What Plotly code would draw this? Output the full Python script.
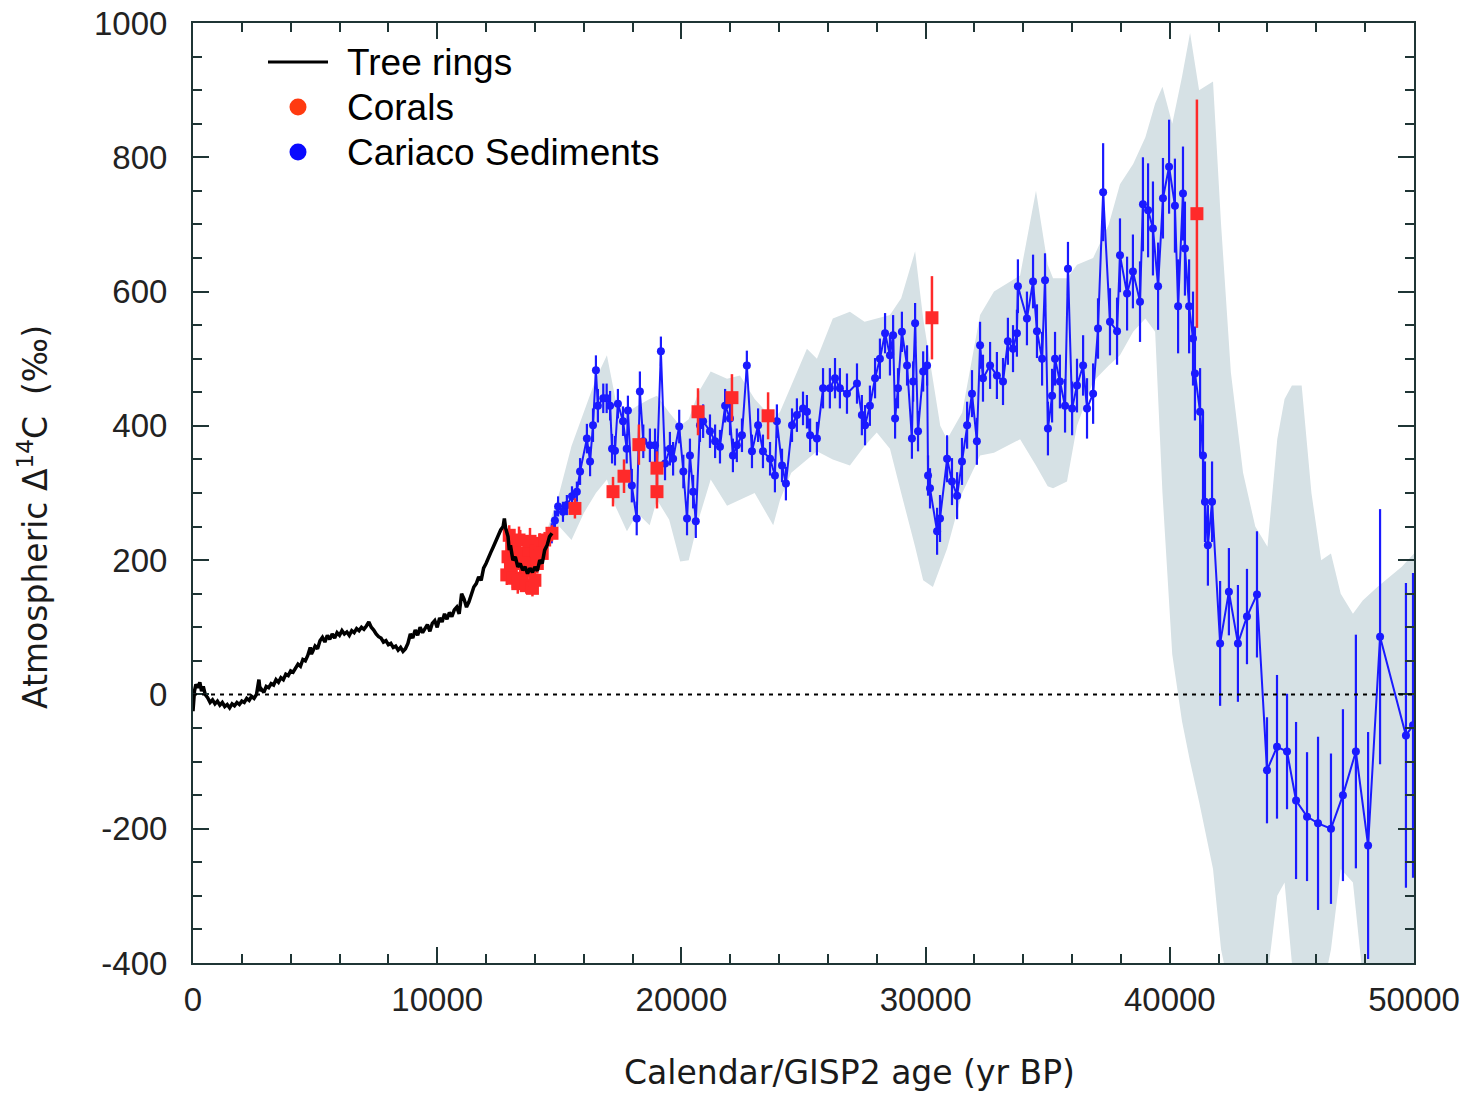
import plotly.graph_objects as go

# ---------------------------------------------------------------------------
# Axis ticks
# ---------------------------------------------------------------------------
x_tick_vals = [0, 10000, 20000, 30000, 40000, 50000]
x_tick_text = ["0", "10000", "20000", "30000", "40000", "50000"]
y_tick_vals = [-400, -200, 0, 200, 400, 600, 800, 1000]
y_tick_text = ["-400", "-200", "0", "200", "400", "600", "800", "1000"]

# legend entries
legend_names = ["Tree rings", "Corals", "Cariaco Sediments"]

# ---------------------------------------------------------------------------
# Tree-ring record (calendar age, Delta14C permil)
# ---------------------------------------------------------------------------
tree_age = [0, 60, 120, 200, 280, 350, 420, 500, 600, 700, 800, 900, 1000, 1100,
            1200, 1300, 1400, 1500, 1600, 1700, 1800, 1900, 2000, 2100, 2200,
            2300, 2400, 2500, 2600, 2700, 2750, 2800, 2900, 3000, 3100, 3200,
            3300, 3400, 3500, 3600, 3700, 3800, 3900, 4000, 4100, 4200, 4300,
            4400, 4500, 4600, 4700, 4800, 4850, 4900, 5000, 5100, 5200, 5300,
            5400, 5500, 5600, 5700, 5800, 5900, 6000, 6100, 6200, 6300, 6400,
            6500, 6600, 6700, 6800, 6900, 7000, 7100, 7200, 7300, 7400, 7500,
            7600, 7700, 7800, 7900, 8000, 8100, 8200, 8300, 8400, 8500, 8600,
            8700, 8800, 8900, 9000, 9100, 9200, 9300, 9400, 9500, 9600, 9700,
            9800, 9900, 10000, 10100, 10200, 10300, 10400, 10500, 10600, 10700,
            10800, 10900, 11000, 11100, 11200, 11300, 11400, 11500, 11600,
            11700, 11800, 11900, 12000, 12100, 12200, 12300, 12400, 12500,
            12600, 12700, 12750, 12800, 12900, 12950, 13000, 13100, 13200,
            13300, 13400, 13500, 13600, 13700, 13800, 13900, 14000, 14100,
            14200, 14300, 14400, 14500, 14600, 14700]
tree_d14c = [-25, 5, 15, 10, 18, 5, 12, 0, -5, -12, -8, -14, -10, -16,
             -12, -18, -15, -20, -14, -17, -12, -15, -10, -12, -6,
             -9, -3, -6, 0, 22, 5, 8, 3, 12, 10, 16,
             14, 22, 18, 25, 22, 30, 28, 35, 33, 40, 45,
             42, 52, 50, 58, 70, 60, 64, 72, 68, 80, 85,
             78, 88, 82, 90, 84, 92, 88, 95, 90, 93, 88,
             95, 92, 98, 95, 100, 97, 102, 108, 100, 96, 90,
             86, 84, 78, 80, 74, 76, 70, 72, 66, 70, 64,
             68, 76, 90, 84, 96, 88, 100, 92, 98, 104, 94,
             106, 110, 100, 114, 108, 120, 112, 122, 116, 126,
             130, 120, 150, 142, 130, 138, 150, 160, 165,
             175, 170, 188, 195, 205, 212, 220, 228, 238,
             245, 250, 262, 248, 235, 215, 222, 200, 205,
             190, 195, 185, 190, 180, 188, 182, 190, 184,
             200, 195, 215, 222, 235, 240]

# ---------------------------------------------------------------------------
# Coral record (age, Delta14C, 1-sigma)
# ---------------------------------------------------------------------------
coral_age = [12850, 12900, 12950, 13000, 13050, 13100, 13150, 13250, 13300,
             13350, 13400, 13450, 13500, 13600, 13650, 13700, 13750, 13800,
             13900, 14000, 14050, 14100, 14200, 14300, 14400, 14700, 15640,
             17200, 17650, 18260, 19000, 19000, 20680, 22070, 23550, 30260,
             41110]
coral_d14c = [178, 205, 237, 190, 222, 173, 215, 195, 165,
              230, 210, 170, 198, 200, 162, 185, 215, 228,
              158, 170, 213, 195, 225, 210, 230, 240, 277,
              302, 325, 372, 337, 302, 421, 442, 415, 561,
              716]
coral_err = [15, 15, 15, 15, 15, 15, 15, 15, 15,
             20, 35, 15, 15, 15, 12, 15, 15, 20,
             12, 15, 15, 15, 15, 15, 12, 12, 15,
             22, 25, 30, 25, 25, 35, 35, 35, 62,
             170]

# ---------------------------------------------------------------------------
# Cariaco Basin sediments (age, Delta14C, 1-sigma)
# ---------------------------------------------------------------------------
cariaco_age = [14690, 14820, 14950, 15150, 15310, 15520, 15720, 15850, 16130,
               16260, 16380, 16500, 16580, 16800, 16940, 17080, 17160, 17280,
               17400, 17610, 17760, 17810, 17970, 18170, 18300, 18440, 18710,
               18920, 19000, 19160, 19330, 19530, 19660, 19910, 20080, 20230,
               20350, 20480, 20590, 20760, 20890, 21170, 21380, 21580, 21790,
               21990, 22110, 22270, 22480, 22680, 22890, 23140, 23340, 23630,
               23830, 23910, 24120, 24280, 24530, 24730, 24980, 25140, 25270,
               25550, 25800, 26080, 26290, 26490, 26780, 27190, 27390, 27520,
               27720, 27930, 28130, 28340, 28540, 28670, 28750, 28870, 29030,
               29240, 29440, 29490, 29570, 29690, 29900, 30060, 30100, 30180,
               30470, 30590, 30880, 31080, 31290, 31490, 31700, 31900, 32100,
               32230, 32350, 32640, 32920, 33170, 33370, 33580, 33740, 33780,
               34150, 34400, 34560, 34770, 34890, 35010, 35180, 35300, 35500,
               35710, 35830, 36000, 36200, 36450, 36610, 36860, 37060, 37270,
               37550, 37840, 37960, 38250, 38490, 38780, 38900, 39110, 39310,
               39520, 39720, 39970, 40210, 40340, 40540, 40620, 40790, 40950,
               41030, 41240, 41360, 41440, 41560, 41730, 42060, 42420, 42790,
               43160, 43570, 43980, 44390, 44800, 45170, 45620, 46070, 46600,
               47090, 47620, 48120, 48610, 49670, 49960]
cariaco_d14c = [240, 259, 280, 272, 282, 295, 302, 332, 381,
                347, 401, 483, 430, 441, 441, 430, 366, 363,
                433, 407, 366, 423, 311, 262, 451, 377, 371,
                371, 337, 511, 344, 366, 351, 399, 332, 262,
                356, 302, 258, 401, 407, 392, 377, 369, 430,
                411, 356, 371, 386, 490, 362, 401, 362, 351,
                326, 407, 341, 314, 401, 416, 426, 421, 386,
                381, 456, 456, 471, 456, 448, 463, 416, 401,
                430, 471, 500, 538, 505, 535, 411, 456, 540,
                490, 381, 466, 553, 392, 481, 490, 326, 307,
                243, 262, 351, 317, 296, 347, 401, 448, 377,
                520, 471, 490, 475, 466, 526, 515, 538, 608,
                560, 615, 541, 500, 617, 396, 445, 500, 466,
                430, 634, 426, 460, 490, 426, 448, 545, 748,
                555, 541, 654, 597, 630, 585, 730, 721, 694,
                608, 739, 786, 728, 578, 746, 664, 578, 530,
                478, 421, 356, 287, 222, 287, 76, 153, 76,
                116, 149, -113, -78, -85, -158, -182, -192, -200,
                -150, -85, -225, 86, -61, -46]
cariaco_err = [15, 15, 15, 15, 15, 15, 15, 20, 22,
               22, 25, 22, 25, 22, 22, 22, 22, 22,
               22, 22, 22, 22, 25, 25, 30, 25, 25,
               25, 25, 22, 25, 25, 25, 25, 25, 25,
               25, 25, 25, 25, 25, 25, 25, 25, 25,
               25, 25, 25, 25, 22, 25, 25, 25, 25,
               25, 25, 25, 25, 25, 25, 25, 25, 25,
               25, 30, 30, 30, 30, 30, 30, 30, 30,
               30, 30, 30, 30, 30, 30, 30, 30, 30,
               30, 30, 30, 30, 30, 30, 30, 30, 30,
               35, 35, 35, 35, 35, 35, 35, 35, 35,
               35, 35, 35, 35, 35, 35, 35, 35, 40,
               40, 40, 40, 40, 40, 40, 40, 40, 40,
               40, 40, 40, 40, 45, 45, 45, 45, 73,
               50, 50, 55, 55, 55, 60, 70, 70, 70,
               65, 60, 70, 70, 70, 70, 70, 70, 70,
               70, 65, 65, 60, 60, 60, 93, 65, 87,
               71, 94, 79, 107, 86, 117, 96, 129, 112,
               128, 174, 169, 190, 227, 227]

# ---------------------------------------------------------------------------
# Comparison envelope (upper / lower bound)
# ---------------------------------------------------------------------------
band_age = [14500, 15000, 15500, 16000, 16500, 16950, 17300, 17770, 18200,
            18700, 19000, 19500, 19950, 20300, 20700, 21200, 21870, 22400,
            23000, 23760, 24040, 24500, 25140, 25550, 26200, 26900, 27500,
            28000, 28540, 29000, 29570, 29900, 30300, 30600, 30880, 31500,
            32230, 32800, 33870, 34520, 35000, 35220, 35790, 36200, 36860,
            37500, 37960, 38500, 39000, 39400, 39700, 40100, 40500, 40830,
            41200, 41770, 42100, 42500, 43000, 43500, 44000, 44400, 44700,
            45000, 45400, 45800, 46200, 46600, 47000, 47500, 47900, 48500,
            49500, 50000]
band_upper = [245, 300, 370, 420, 470, 505, 440, 420, 430,
              440, 445, 420, 400, 410, 450, 481, 470, 475,
              440, 410, 421, 460, 515, 500, 560, 570, 555,
              560, 565, 590, 660, 560, 470, 400, 380, 420,
              565, 600, 624, 750, 640, 620, 620, 640, 650,
              700, 760, 790, 830, 880, 905, 850, 920, 985,
              900, 913, 700, 480, 330, 250, 220, 380, 440,
              460, 460, 300, 200, 210, 150, 120, 140, 160,
              190, 210]
band_lower = [235, 250, 230, 270, 300, 320, 280, 243, 270,
              252, 290, 260, 198, 200, 260, 320, 281, 290,
              300, 252, 290, 330, 350, 362, 350, 341, 370,
              390, 366, 300, 220, 170, 160, 190, 217, 300,
              356, 360, 380, 341, 310, 307, 317, 400, 466,
              490, 505, 540, 560, 540, 300, 60, -40, -100,
              -160, -260, -380, -450, -450, -450, -420, -300, -280,
              -400, -450, -450, -450, -380, -260, -280, -420, -450,
              -450, -450]

BLUE = "#1a1aff"
RED = "#ff2a2a"
AXIS = "#1f3535"
FONT = "Liberation Sans, Arial, sans-serif"

# plot-area geometry in page pixels
W, H = 1470, 1095
L, R, T, B = 193, 1414, 23, 963


def px_x(p):
    return (p - L) / (R - L)


def px_y(p):
    return (B - p) / (B - T)


fig = go.Figure()

# envelope, drawn first so everything sits on top of it
fig.add_trace(go.Scatter(
    x=band_age + band_age[::-1],
    y=band_upper + band_lower[::-1],
    fill="toself", fillcolor="#d6e1e5",
    line=dict(width=0), mode="lines",
    showlegend=False, hoverinfo="skip",
))

fig.add_trace(go.Scatter(
    x=cariaco_age, y=cariaco_d14c, mode="lines+markers",
    line=dict(color=BLUE, width=2),
    marker=dict(color=BLUE, size=8, symbol="circle"),
    error_y=dict(type="data", array=cariaco_err, color=BLUE,
                 thickness=2.2, width=0),
    name=legend_names[2], showlegend=False,
))

fig.add_trace(go.Scatter(
    x=coral_age, y=coral_d14c, mode="markers",
    marker=dict(color=RED, size=13, symbol="square"),
    error_y=dict(type="data", array=coral_err, color=RED,
                 thickness=2.5, width=0),
    name=legend_names[1], showlegend=False,
))

fig.add_trace(go.Scatter(
    x=tree_age, y=tree_d14c, mode="lines",
    line=dict(color="black", width=3.5),
    name=legend_names[0], showlegend=False,
))

# zero reference line
fig.add_shape(type="line", xref="x", yref="y", x0=0, x1=50000, y0=0, y1=0,
              line=dict(color="black", width=2, dash="4px,5px"))

# key in the upper-left corner
LEG_FONT = dict(family=FONT, size=37, color="black")
leg_rows = [62, 107, 152]
fig.add_shape(type="line", xref="paper", yref="paper",
              x0=px_x(268), x1=px_x(328), y0=px_y(leg_rows[0]), y1=px_y(leg_rows[0]),
              line=dict(color="black", width=3))
for row, col in zip(leg_rows[1:], ["#ff3a10", "#0a0aff"]):
    fig.add_shape(type="circle", xref="paper", yref="paper",
                  x0=px_x(289.5), x1=px_x(306.5),
                  y0=px_y(row + 8.5), y1=px_y(row - 8.5),
                  fillcolor=col, line=dict(width=0))
for row, name in zip(leg_rows, legend_names):
    fig.add_annotation(text=name, xref="paper", yref="paper",
                       x=px_x(345), y=px_y(row), xanchor="left", yanchor="middle",
                       showarrow=False, font=LEG_FONT)

axis_common = dict(
    showline=True, linecolor=AXIS, linewidth=2, mirror="ticks",
    ticks="inside", tickcolor=AXIS, tickwidth=2,
    showgrid=False, zeroline=False, automargin=False,
    tickfont=dict(family=FONT, size=33, color="#222222"),
)

fig.update_xaxes(range=[0, 50000], tickvals=x_tick_vals, ticktext=x_tick_text,
                 ticklen=16, ticklabelstandoff=6,
                 minor=dict(dtick=2000, ticks="inside", ticklen=9,
                            tickcolor=AXIS, tickwidth=2),
                 **axis_common)
fig.update_yaxes(range=[-400, 1000], tickvals=y_tick_vals, ticktext=y_tick_text,
                 ticklen=16, ticklabelstandoff=17,
                 minor=dict(dtick=50, ticks="inside", ticklen=9,
                            tickcolor=AXIS, tickwidth=2),
                 **axis_common)

TITLE_FONT = dict(family="DejaVu Sans, sans-serif", size=33, color="#1a1a1a")
fig.add_annotation(text="Calendar/GISP2 age (yr BP)", xref="paper", yref="paper",
                   x=px_x(849), y=px_y(1072),
                   xanchor="center", yanchor="middle", showarrow=False,
                   font=TITLE_FONT)
fig.add_annotation(text="Atmospheric \u0394<sup>14</sup>C  (\u2030)",
                   xref="paper", yref="paper",
                   x=px_x(33), y=px_y(517),
                   xanchor="center", yanchor="middle", textangle=-90,
                   showarrow=False, font=TITLE_FONT)

fig.update_layout(
    width=W, height=H,
    margin=dict(l=L, r=W - R, t=T, b=H - B),
    paper_bgcolor="white", plot_bgcolor="white",
    showlegend=False,
)

fig.write_html("out.html")
